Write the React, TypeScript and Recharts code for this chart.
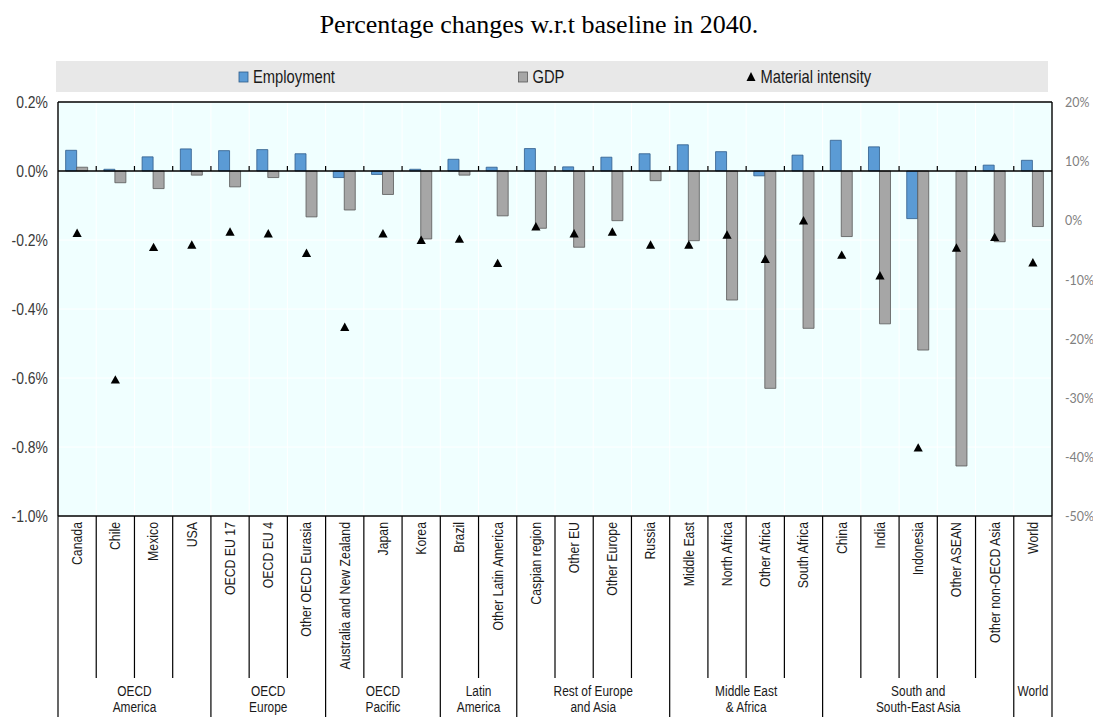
import React from 'react';
import { ComposedChart, Bar, Scatter, XAxis, YAxis, CartesianGrid, ReferenceLine } from 'recharts';

const categories = [
  'Canada', 'Chile', 'Mexico', 'USA', 'OECD EU 17', 'OECD EU 4', 'Other OECD Eurasia',
  'Australia and New Zealand', 'Japan', 'Korea', 'Brazil', 'Other Latin America',
  'Caspian region', 'Other EU', 'Other Europe', 'Russia', 'Middle East', 'North Africa',
  'Other Africa', 'South Africa', 'China', 'India', 'Indonesia', 'Other ASEAN',
  'Other non-OECD Asia', 'World',
];
const employment = [
  0.060, 0.005, 0.041, 0.064, 0.059, 0.062, 0.050, -0.019, -0.010, 0.005, 0.034, 0.011,
  0.065, 0.012, 0.040, 0.050, 0.076, 0.056, -0.014, 0.046, 0.089, 0.070, -0.138, 0.0,
  0.017, 0.031,
];
const gdp = [
  0.011, -0.034, -0.051, -0.012, -0.046, -0.019, -0.133, -0.113, -0.068, -0.197, -0.012,
  -0.130, -0.166, -0.221, -0.144, -0.028, -0.202, -0.374, -0.630, -0.456, -0.190, -0.443,
  -0.519, -0.855, -0.205, -0.161,
];
const materialIntensity = [
  -2.2, -27.0, -4.6, -4.2, -2.0, -2.3, -5.6, -18.1, -2.3, -3.4, -3.2, -7.3, -1.1, -2.3,
  -2.0, -4.2, -4.2, -2.5, -6.6, -0.1, -5.9, -9.4, -38.5, -4.7, -2.9, -7.2,
];
const groupNames = [
  ['OECD', 'America'], ['OECD', 'Europe'], ['OECD', 'Pacific'], ['Latin', 'America'],
  ['Rest of Europe', 'and Asia'], ['Middle East', '& Africa'], ['South and', 'South-East Asia'],
  ['World'],
];
const groupSizes = [4, 3, 3, 2, 4, 4, 5, 1];
const leftTicks = [-1.0, -0.8, -0.6, -0.4, -0.2, 0, 0.2];
const rightTicks = [-50, -40, -30, -20, -10, 0, 10, 20];

const TITLE = 'Percentage changes w.r.t baseline in 2040.';

const data = categories.map((name, i) => ({
  name,
  employment: employment[i],
  gdp: gdp[i],
  mi: materialIntensity[i],
}));

// layout constants
const CHART_W = 1093;
const CHART_H = 717;
const TOP = 102;
const LEFT_W = 58;
const RIGHT_W = 41;
const X_AXIS_H = 201;
const PLOT_BOTTOM = CHART_H - X_AXIS_H;
const PLOT_W = CHART_W - LEFT_W - RIGHT_W;
const BAND = PLOT_W / categories.length;
const INNER_DIV_BOTTOM = 678;

const SANS = "'Liberation Sans', Arial, sans-serif";
const NARROW = 0.82;

const groupStart: Record<number, number> = {};
const groupEnds = new Set<number>();
{
  let acc = 0;
  groupSizes.forEach((s, g) => {
    groupStart[acc] = g;
    acc += s;
    groupEnds.add(acc - 1);
  });
}

const CategoryTick = (props: any) => {
  const { x, payload } = props;
  let idx = payload && typeof payload.index === 'number' ? payload.index : props.index;
  if (typeof idx !== 'number') idx = categories.indexOf(payload.value);
  const left = x - BAND / 2;
  const right = x + BAND / 2;
  const isEnd = groupEnds.has(idx);
  const g = groupStart[idx];
  const elems: any[] = [];
  elems.push(
    <g key="t" transform={`translate(${x},${PLOT_BOTTOM + 6}) rotate(-90) scale(${NARROW},1)`}>
      <text x={0} y={0} textAnchor="end" dominantBaseline="central" fontSize={15} fontFamily={SANS} fill="#1a1a1a">
        {payload.value}
      </text>
    </g>
  );
  elems.push(
    <line key="r" x1={right} x2={right} y1={PLOT_BOTTOM} y2={isEnd ? CHART_H : INNER_DIV_BOTTOM} stroke="#000" strokeWidth={1.2} />
  );
  if (idx === 0) {
    elems.push(<line key="l" x1={left} x2={left} y1={PLOT_BOTTOM} y2={CHART_H} stroke="#000" strokeWidth={1.2} />);
  }
  if (g !== undefined) {
    const cx = left + (groupSizes[g] * BAND) / 2;
    groupNames[g].forEach((line, li) => {
      elems.push(
        <g key={`g${li}`} transform={`translate(${cx},${691 + li * 16.5}) scale(${NARROW},1)`}>
          <text x={0} y={0} textAnchor="middle" dominantBaseline="central" fontSize={14.5} fontFamily={SANS} fill="#1a1a1a">
            {line}
          </text>
        </g>
      );
    });
  }
  return <g>{elems}</g>;
};

const LeftTick = (props: any) => {
  const { x, y, payload } = props;
  return (
    <g transform={`translate(${x},${y}) scale(${NARROW},1)`}>
      <text x={0} y={0} textAnchor="end" dominantBaseline="central" fontSize={17} fontFamily={SANS} fill="#3a3a3a">
        {`${Number(payload.value).toFixed(1)}%`}
      </text>
    </g>
  );
};

const RightTick = (props: any) => {
  const { x, y, payload } = props;
  return (
    <g transform={`translate(${x},${y}) scale(0.92,1)`}>
      <text x={0} y={0} textAnchor="start" dominantBaseline="central" fontSize={13.5} fontFamily="Lato, 'Open Sans', sans-serif" fill="#7f7f7f">
        {`${payload.value}%`}
      </text>
    </g>
  );
};

const ZeroLine = (props: any) => {
  const { x1, y1, x2, y2 } = props;
  const n = categories.length;
  const step = (x2 - x1) / n;
  return (
    <g>
      <line x1={x1} y1={y1} x2={x2} y2={y2} stroke="#000" strokeWidth={1.4} />
      {categories.slice(1).map((_, k) => (
        <line key={k} x1={x1 + step * (k + 1)} x2={x1 + step * (k + 1)} y1={y1} y2={y1 - 5} stroke="#000" strokeWidth={1.2} />
      ))}
    </g>
  );
};

const Triangle = (props: any) => {
  const { cx, cy } = props;
  if (cx == null || cy == null) return null;
  return <polygon points={`${cx},${cy - 4.8} ${cx + 4.6},${cy + 3.6} ${cx - 4.6},${cy + 3.6}`} fill="#000" />;
};

const legendItems = [
  { label: 'Employment', kind: 'rect', fill: '#5B9BD5', stroke: '#2E5C8A', x: 239 },
  { label: 'GDP', kind: 'rect', fill: '#A6A6A6', stroke: '#595959', x: 518.5 },
  { label: 'Material intensity', kind: 'tri', fill: '#000', stroke: '#000', x: 746.5 },
];

export default function App() {
  return (
    <div style={{ position: 'absolute', left: 0, top: 0, width: CHART_W, height: CHART_H, background: '#fff' }}>
      <ComposedChart
        width={CHART_W}
        height={CHART_H}
        data={data}
        margin={{ top: TOP, right: 0, bottom: 0, left: 0 }}
        barCategoryGap="20%"
        barGap={0}
      >
        <CartesianGrid
          yAxisId="left"
          stroke="#ffffff"
          strokeWidth={1}
          fill="#F0FFFF"
          verticalCoordinatesGenerator={({ offset }: any) =>
            categories.map((_, i) => offset.left + (offset.width * i) / categories.length)
          }
        />
        <XAxis
          dataKey="name"
          type="category"
          height={X_AXIS_H}
          interval={0}
          tickLine={false}
          axisLine={{ stroke: '#000', strokeWidth: 1.4 }}
          tick={<CategoryTick />}
        />
        <YAxis
          yAxisId="left"
          orientation="left"
          width={LEFT_W}
          domain={[-1.0, 0.2]}
          ticks={leftTicks}
          interval={0}
          tickLine={false}
          tickSize={6}
          tickMargin={4}
          axisLine={{ stroke: '#000', strokeWidth: 1.4 }}
          tick={<LeftTick />}
        />
        <YAxis
          yAxisId="right"
          orientation="right"
          width={RIGHT_W}
          domain={[-50, 20]}
          ticks={rightTicks}
          interval={0}
          tickLine={false}
          tickSize={6}
          tickMargin={7}
          axisLine={{ stroke: '#000', strokeWidth: 1.4 }}
          tick={<RightTick />}
        />
        <ReferenceLine yAxisId="left" y={0.2} stroke="#000" strokeWidth={1.4} />
        <Bar yAxisId="left" dataKey="employment" name="Employment" fill="#5B9BD5" stroke="#2E5C8A" strokeWidth={0.8} isAnimationActive={false} />
        <Bar yAxisId="left" dataKey="gdp" name="GDP" fill="#A6A6A6" stroke="#595959" strokeWidth={0.8} isAnimationActive={false} />
        <ReferenceLine yAxisId="left" y={0} stroke="#000" shape={ZeroLine} />
        <Scatter yAxisId="right" dataKey="mi" name="Material intensity" shape={Triangle} fill="#000" isAnimationActive={false} />
      </ComposedChart>
      <svg
        width={CHART_W}
        height={TOP}
        style={{ position: 'absolute', left: 0, top: 0, pointerEvents: 'none' }}
      >
        <text x={539} y={33} textAnchor="middle" fontSize={26} fontFamily="'Liberation Serif', 'Times New Roman', serif" fill="#000">
          {TITLE}
        </text>
        <rect x={56} y={61} width={992} height={31} fill="#E8E8E8" />
        {legendItems.map((it) => (
          <g key={it.label}>
            {it.kind === 'rect' ? (
              <rect x={it.x} y={72} width={9} height={10} fill={it.fill} stroke={it.stroke} strokeWidth={0.8} />
            ) : (
              <polygon points={`${it.x + 4.5},${72} ${it.x + 9},${81} ${it.x},${81}`} fill="#000" />
            )}
            <g transform={`translate(${it.x + 14},83) scale(${NARROW},1)`}>
              <text x={0} y={0} fontSize={18} fontFamily={SANS} fill="#1a1a1a">
                {it.label}
              </text>
            </g>
          </g>
        ))}
      </svg>
    </div>
  );
}
